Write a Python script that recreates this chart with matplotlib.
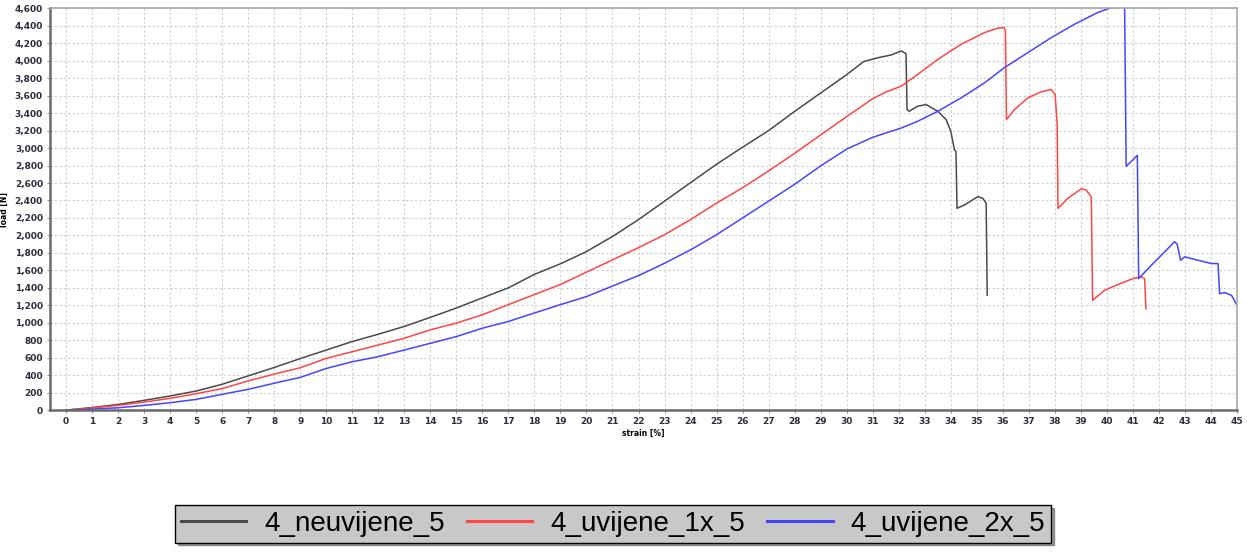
import numpy as np
import matplotlib.pyplot as plt
from matplotlib.ticker import FuncFormatter, MultipleLocator

## Data (strain [%], load [N])
strain_neuv = [0, 1, 2, 3, 4, 5, 6, 7, 8, 9, 10, 11, 12, 13, 14, 15, 16, 17, 18, 19,
               20, 21, 22, 23, 24, 25, 26, 27, 28, 29, 30, 30.65, 31.2, 31.7, 32.1,
               32.28, 32.32, 32.4, 32.73, 33.05, 33.5, 33.82, 34.0, 34.14, 34.2, 34.24,
               34.53, 35.04, 35.23, 35.36, 35.4]
load_neuv = [0, 30, 65, 112, 162, 219, 296, 392, 488, 590, 688, 785, 869, 958, 1062,
             1169, 1285, 1400, 1554, 1675, 1815, 1988, 2181, 2392, 2604, 2815, 3010,
             3200, 3420, 3630, 3840, 3990, 4034, 4065, 4111, 4080, 3440, 3421, 3479,
             3498, 3421, 3326, 3192, 2981, 2962, 2310, 2349, 2444, 2425, 2368, 1314]

strain_1x = [0, 1, 2, 3, 4, 5, 6, 7, 8, 9, 10, 11, 12, 13, 14, 15, 16, 17, 18, 19, 20,
             21, 22, 23, 24, 25, 26, 27, 28, 29, 30, 31, 31.5, 32.1, 32.73, 33.5, 34.4,
             35.3, 35.8, 36.06, 36.1, 36.14, 36.45, 36.96, 37.47, 37.86, 38.01, 38.09,
             38.12, 38.5, 39.01, 39.2, 39.4, 39.45, 39.91, 40.42, 41.0, 41.32, 41.45,
             41.5]
load_1x = [0, 25, 54, 92, 135, 188, 246, 335, 412, 485, 592, 669, 746, 823, 919, 996,
           1092, 1208, 1323, 1438, 1580, 1720, 1860, 2008, 2181, 2370, 2546, 2738, 2940,
           3150, 3360, 3565, 3640, 3709, 3843, 4015, 4188, 4322, 4372, 4379, 4340, 3326,
           3441, 3575, 3644, 3671, 3613, 3268, 2310, 2425, 2533, 2521, 2440, 1257, 1372,
           1437, 1506, 1525, 1506, 1161]

strain_2x = [0, 1, 2, 3, 4, 5, 6, 7, 8, 9, 10, 11, 12, 13, 14, 15, 16, 17, 18, 19, 20,
             21, 22, 23, 24, 25, 26, 27, 28, 29, 30, 31, 32.1, 32.73, 33.5, 34.4, 35.3,
             36.06, 36.96, 37.86, 38.76, 39.65, 40.2, 40.68, 40.74, 41.06, 41.17, 41.22,
             41.71, 42.22, 42.6, 42.7, 42.83, 42.99, 43.5, 44.01, 44.27, 44.33, 44.53,
             44.79, 45.0]
load_2x = [0, 12, 27, 54, 85, 123, 181, 238, 308, 375, 477, 554, 612, 688, 765, 842,
           938, 1015, 1112, 1208, 1300, 1420, 1540, 1681, 1835, 2008, 2200, 2392, 2585,
           2796, 2988, 3123, 3230, 3307, 3421, 3575, 3747, 3920, 4092, 4264, 4418, 4552,
           4610, 4615, 2790, 2885, 2916, 1506, 1659, 1812, 1927, 1900, 1716, 1755, 1716,
           1678, 1678, 1333, 1345, 1314, 1199]

series_names = ['4_neuvijene_5', '4_uvijene_1x_5', '4_uvijene_2x_5']
series_colors = ['#4a4a4a', '#ff4545', '#4545ff']

## Figure
fig = plt.figure(figsize=(12.47, 5.52), dpi=100)
ax = fig.add_axes([0.040, 0.257, 0.952, 0.728])

ax.plot(strain_neuv, load_neuv, color=series_colors[0], lw=1.1, label=series_names[0])
ax.plot(strain_1x, load_1x, color=series_colors[1], lw=1.1, label=series_names[1])
ax.plot(strain_2x, load_2x, color=series_colors[2], lw=1.1, label=series_names[2])

ax.set_xlim(-0.62, 45)
ax.set_ylim(0, 4600)
ax.xaxis.set_major_locator(MultipleLocator(1))
ax.yaxis.set_major_locator(MultipleLocator(200))
ax.yaxis.set_major_formatter(FuncFormatter(lambda v, p: '{:,.0f}'.format(v)))

ax.grid(True, color='#cfcfcf', linestyle=(0, (2, 2)), linewidth=0.8)
ax.tick_params(labelsize=6.5, labelcolor='#2d2d3d', length=2, width=0.6,
               color='#777777', pad=3)
for lab in ax.get_xticklabels() + ax.get_yticklabels():
    lab.set_fontweight('bold')

for side in ['left', 'bottom']:
    ax.spines[side].set_color('#6a6a6a')
    ax.spines[side].set_linewidth(1.8)
for side in ['top', 'right']:
    ax.spines[side].set_color('#a8a8a8')
    ax.spines[side].set_linewidth(1.2)

ax.set_xlabel('strain [%]', fontsize=5.5, fontweight='bold', labelpad=2)
ax.set_ylabel('load [N]', fontsize=5.5, fontweight='bold', labelpad=4)

leg = fig.legend(loc='center', bbox_to_anchor=(0.4916, 0.0507), ncol=3,
                 frameon=True, shadow=True, fancybox=False,
                 handlelength=2.35, handletextpad=0.65, columnspacing=0.8,
                 borderpad=0.2, prop={'family': 'Liberation Sans', 'size': 20})
leg.get_frame().set_facecolor('#c8c8c8')
leg.get_frame().set_edgecolor('#000000')
leg.get_frame().set_linewidth(1.0)
for line in leg.get_lines():
    line.set_linewidth(2.2)

fig.savefig('out.png', dpi=100)
